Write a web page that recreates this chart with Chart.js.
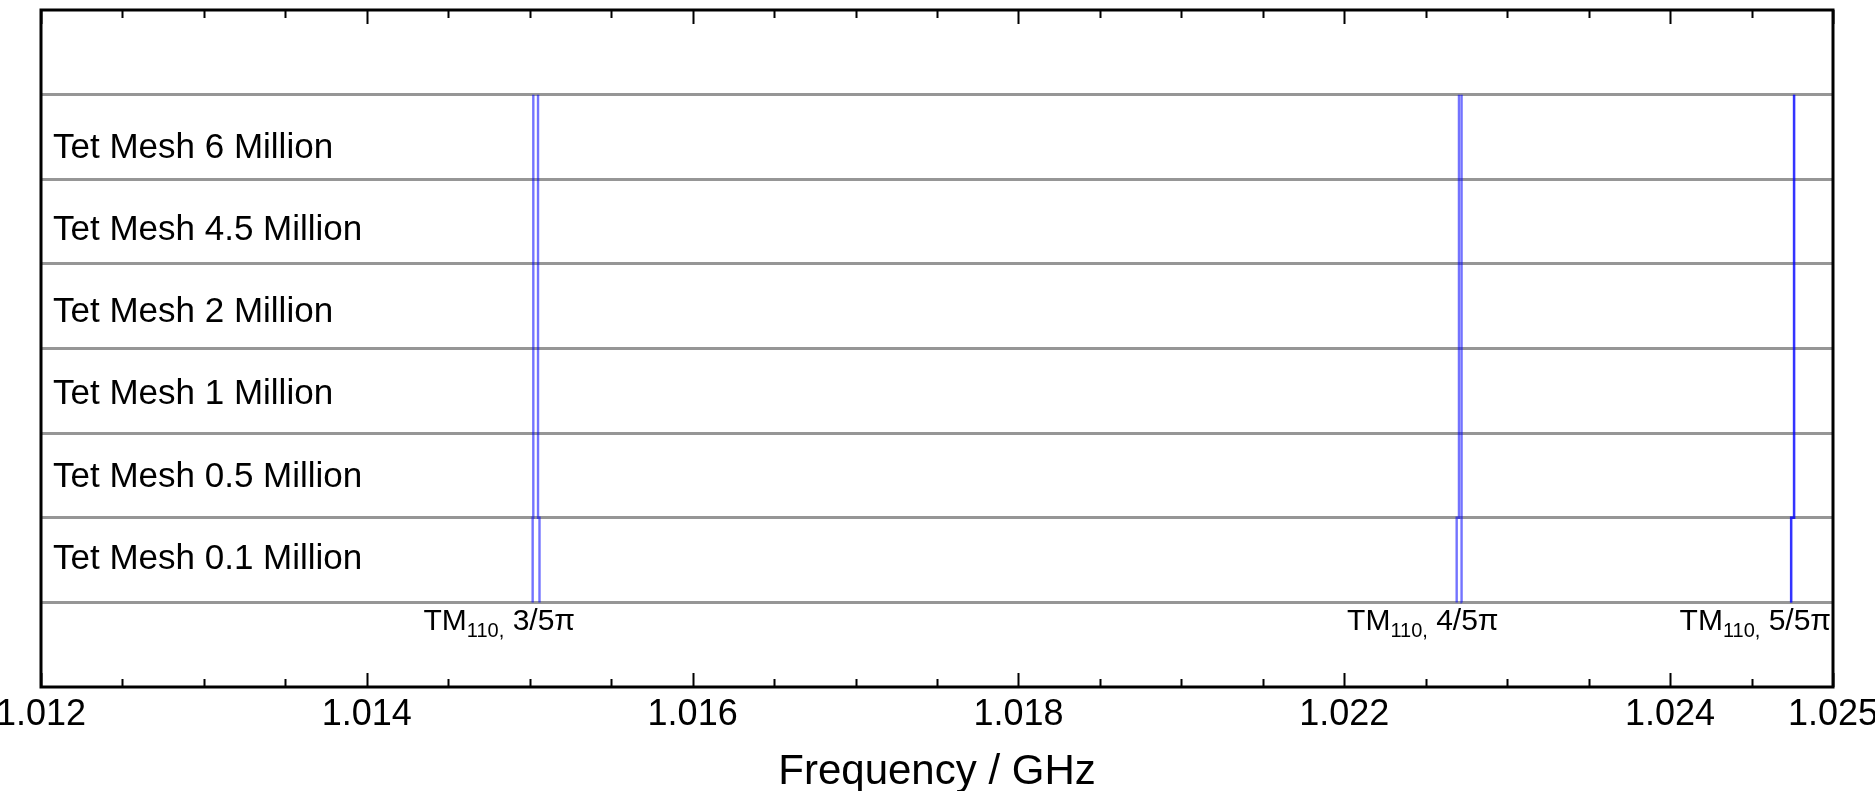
<!DOCTYPE html>
<html>
<head>
<meta charset="utf-8">
<title>TM110 frequencies vs tet mesh size</title>
<script src="https://cdn.jsdelivr.net/npm/chart.js@4.4.1/dist/chart.umd.min.js"></script>
<style>
  html, body { margin: 0; padding: 0; background: #fff; }
  canvas { display: block; }
</style>
</head>
<body>
<canvas id="chart" width="1875" height="791"></canvas>
<script>
'use strict';

// mesh rows, listed bottom to top
const meshLabels = ['Tet Mesh 0.1 Million', 'Tet Mesh 0.5 Million', 'Tet Mesh 1 Million',
                    'Tet Mesh 2 Million', 'Tet Mesh 4.5 Million', 'Tet Mesh 6 Million'];

// TM110 modes, two solutions per mode, GHz (same row order as meshLabels)
const modeNames = ['3/5π', '4/5π', '5/5π'];
const mode3A = [1.015018, 1.015022, 1.015022, 1.015022, 1.015022, 1.015022];
const mode3B = [1.015060, 1.015051, 1.015051, 1.015051, 1.015051, 1.015051];
const mode4A = [1.022690, 1.022704, 1.022704, 1.022704, 1.022704, 1.022704];
const mode4B = [1.022721, 1.022720, 1.022720, 1.022720, 1.022720, 1.022720];
const mode5A = [1.024743, 1.024761, 1.024761, 1.024761, 1.024761, 1.024761];
const mode5B = [1.024743, 1.024761, 1.024761, 1.024761, 1.024761, 1.024761];

// x axis ticks; the axis is broken, 1.018 is followed straight by 1.022
const xTicks = [1.012, 1.014, 1.016, 1.018, 1.022, 1.024, 1.025];
const xMinorStep = 0.0005;
const gapFrom = 1.020;
const gapTo = 1.022;

const FONT = '"Liberation Sans", Arial, Helvetica, sans-serif';

// linear scale with the 1.020..1.022 stretch cut out
class GapScale extends Chart.LinearScale {
    configure() {
        super.configure();
        this._valueRange -= (gapTo - gapFrom);
    }
    getPixelForValue(value) {
        if (value >= (gapFrom + gapTo) / 2) value -= (gapTo - gapFrom);
        return super.getPixelForValue(value);
    }
}
GapScale.id = 'gap';
GapScale.defaults = Chart.LinearScale.defaults;
Chart.register(GapScale);

function modeDataset(freqs) {
    const pts = [];
    freqs.forEach((f, i) => {
        pts.push({ x: f, y: i });
        pts.push({ x: f, y: i + 1 });
    });
    return {
        data: pts,
        borderColor: 'rgba(0, 0, 255, 0.55)',
        borderWidth: 2.4,
        pointRadius: 0,
        tension: 0,
        fill: false
    };
}

function minorTicks(min, max) {
    const out = [];
    for (let k = 0; ; k++) {
        const v = Math.round((min + k * xMinorStep) * 1e5) / 1e5;
        if (v > max + 1e-9) break;
        if (v > gapFrom - 1e-9 && v < gapTo - 1e-9) continue;
        if (xTicks.some(t => Math.abs(t - v) < 1e-9)) continue;
        out.push(v);
    }
    return out;
}

// keep the plot box where it is, labels may hang over the edges
function noPadding(s) {
    s.paddingLeft = 0; s.paddingRight = 0;
    s.paddingTop = 0; s.paddingBottom = 0;
}

function drawModeLabel(ctx, xRight, yBase, name) {
    const big = '30px ' + FONT, small = '20px ' + FONT;
    ctx.font = big;
    const wTM = ctx.measureText('TM').width;
    const wTail = ctx.measureText(' ' + name).width;
    ctx.font = small;
    const wSub = ctx.measureText('110,').width;
    let x = xRight - (wTM + wSub + wTail);
    ctx.textAlign = 'left';
    ctx.textBaseline = 'alphabetic';
    ctx.fillStyle = '#000';
    ctx.font = big;   ctx.fillText('TM', x, yBase); x += wTM;
    ctx.font = small; ctx.fillText('110,', x, yBase + 7); x += wSub;
    ctx.font = big;   ctx.fillText(' ' + name, x, yBase);
}

// frame, inward tick marks and mode labels
const framePlugin = {
    id: 'frame',
    beforeDraw(chart) {
        const ctx = chart.ctx;
        ctx.save();
        ctx.fillStyle = '#fff';
        ctx.fillRect(0, 0, chart.width, chart.height);
        ctx.restore();
    },
    afterDraw(chart) {
        const ctx = chart.ctx;
        const a = chart.chartArea;
        const xs = chart.scales.x;
        const ys = chart.scales.y;
        ctx.save();

        // tick marks on top and bottom edges, pointing in
        ctx.strokeStyle = '#000';
        ctx.lineWidth = 2;
        const mark = (v, len) => {
            const px = Math.round(xs.getPixelForValue(v)) + 0.5;
            ctx.beginPath();
            ctx.moveTo(px, a.top); ctx.lineTo(px, a.top + len);
            ctx.moveTo(px, a.bottom); ctx.lineTo(px, a.bottom - len);
            ctx.stroke();
        };
        xTicks.forEach(v => mark(v, 14));
        minorTicks(xs.min, xs.max).forEach(v => mark(v, 8));

        // frame
        ctx.lineWidth = 3;
        ctx.strokeRect(a.left, a.top, a.right - a.left, a.bottom - a.top);

        // mode labels under the lines
        const anchors = [mode3B, mode4B, mode5B];
        anchors.forEach((f, m) => {
            const px = xs.getPixelForValue(f[f.length - 1]);
            drawModeLabel(ctx, px + 37, ys.getPixelForValue(-0.33), modeNames[m]);
        });
        ctx.restore();
    }
};

const datasets = [mode3A, mode3B, mode4A, mode4B, mode5A, mode5B].map(modeDataset);

new Chart(document.getElementById('chart'), {
    type: 'line',
    data: { datasets: datasets },
    plugins: [framePlugin],
    options: {
        responsive: false,
        devicePixelRatio: 1,
        animation: false,
        layout: { padding: { left: 41, right: 42, top: 10, bottom: 0 } },
        plugins: { legend: { display: false }, tooltip: { enabled: false } },
        scales: {
            x: {
                type: 'gap',
                position: 'bottom',
                min: 1.012,
                max: 1.025,
                afterBuildTicks: s => { s.ticks = xTicks.map(v => ({ value: v })); },
                afterFit: s => { s.height = 104; noPadding(s); },
                grid: { display: false, drawTicks: false },
                border: { display: false },
                ticks: {
                    autoSkip: false,
                    maxRotation: 0,
                    padding: 6,
                    color: '#000',
                    font: { family: FONT, size: 36, lineHeight: 1.2 },
                    callback: v => v.toFixed(3)
                },
                title: {
                    display: true,
                    text: 'Frequency / GHz',
                    color: '#000',
                    font: { family: FONT, size: 42, lineHeight: 0.9 },
                    padding: { top: 0, bottom: 0 }
                }
            },
            y: {
                type: 'linear',
                position: 'left',
                min: -1,
                max: 7,
                afterBuildTicks: s => {
                    s.ticks = meshLabels.map((_, i) => ({ value: 0.51 + i * 0.972 }));
                },
                afterFit: s => { s.width = 0; noPadding(s); },
                grid: { display: false, drawTicks: false },
                border: { display: false },
                ticks: {
                    mirror: true,
                    padding: 12,
                    color: '#000',
                    font: { family: FONT, size: 35 },
                    callback: (v, i) => meshLabels[i]
                }
            },
            rows: {
                type: 'linear',
                position: 'left',
                min: -1,
                max: 7,
                afterBuildTicks: s => {
                    s.ticks = [];
                    for (let i = 0; i <= meshLabels.length; i++) s.ticks.push({ value: i });
                },
                afterFit: s => { s.width = 0; noPadding(s); },
                grid: { color: '#969696', lineWidth: 3, drawTicks: false },
                border: { display: false },
                ticks: { display: false }
            }
        }
    }
});
</script>
</body>
</html>
